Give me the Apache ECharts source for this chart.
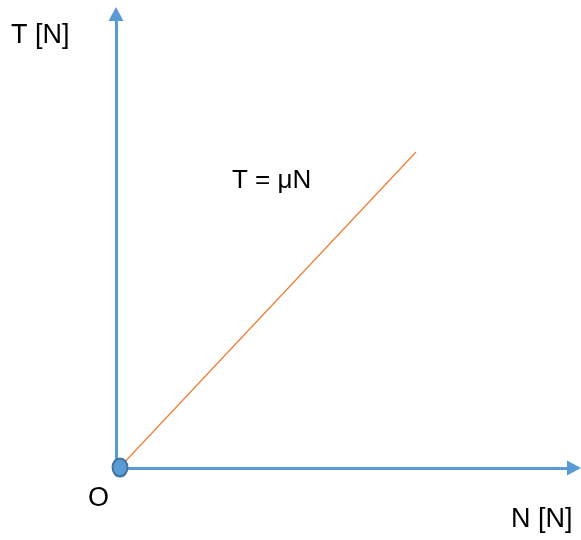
<!DOCTYPE html>
<html>
<head>
<meta charset="utf-8">
<script src="https://cdn.jsdelivr.net/npm/echarts@6/dist/echarts.min.js"></script>
<style>
  html, body { margin: 0; padding: 0; background: #fff; }
  #main { width: 581px; height: 540px; }
</style>
</head>
<body>
<div id="main"></div>
<script>
    // axis extents (arbitrary units, picture-scaled)
    var xMax = 458;
    var yMax = 454;
    // T = μN line, start and end points
    var lineX = [4, 300];
    var lineY = [1, 316];
    // origin marker
    var originPoint = [4, 0.5];

    var myChart = echarts.init(document.getElementById('main'));
    var blue = '#5B9BD5';
    var orange = '#ED7D31';
    var txt = { fontSize: 27, fontFamily: 'Liberation Sans', fill: '#000' };

    function label(text, left, top, size) {
        return { type: 'text', left: left, top: top,
            style: { text: text, fontSize: size || txt.fontSize, fontFamily: txt.fontFamily, fill: txt.fill } };
    }

    var option = {
        animation: false,
        grid: { left: 116, right: 7, top: 14, bottom: 72 },
        xAxis: {
            type: 'value', min: 0, max: xMax,
            axisLine: { show: true, symbol: ['none', 'triangle'], symbolSize: [15, 14],
                lineStyle: { color: blue, width: 3 } },
            axisTick: { show: false }, axisLabel: { show: false }, splitLine: { show: false }
        },
        yAxis: {
            type: 'value', min: 0, max: yMax,
            axisLine: { show: true, symbol: ['none', 'triangle'], symbolSize: [15, 14],
                lineStyle: { color: blue, width: 3 } },
            axisTick: { show: false }, axisLabel: { show: false }, splitLine: { show: false }
        },
        series: [
            {
                type: 'line',
                data: [[lineX[0], lineY[0]], [lineX[1], lineY[1]]],
                symbol: 'none',
                lineStyle: { color: orange, width: 1.2 },
                z: 2
            },
            {
                type: 'scatter',
                data: [originPoint],
                symbol: 'circle',
                symbolSize: [15, 18],
                itemStyle: { color: blue, borderColor: '#41719C', borderWidth: 2, opacity: 1 },
                z: 5
            }
        ],
        graphic: [
            label('T [N]', 11, 22),
            label('T = μN', 232, 168, 26),
            label('O', 88, 485),
            label('N [N]', 511, 506)
        ]
    };
    myChart.setOption(option);
</script>
</body>
</html>
